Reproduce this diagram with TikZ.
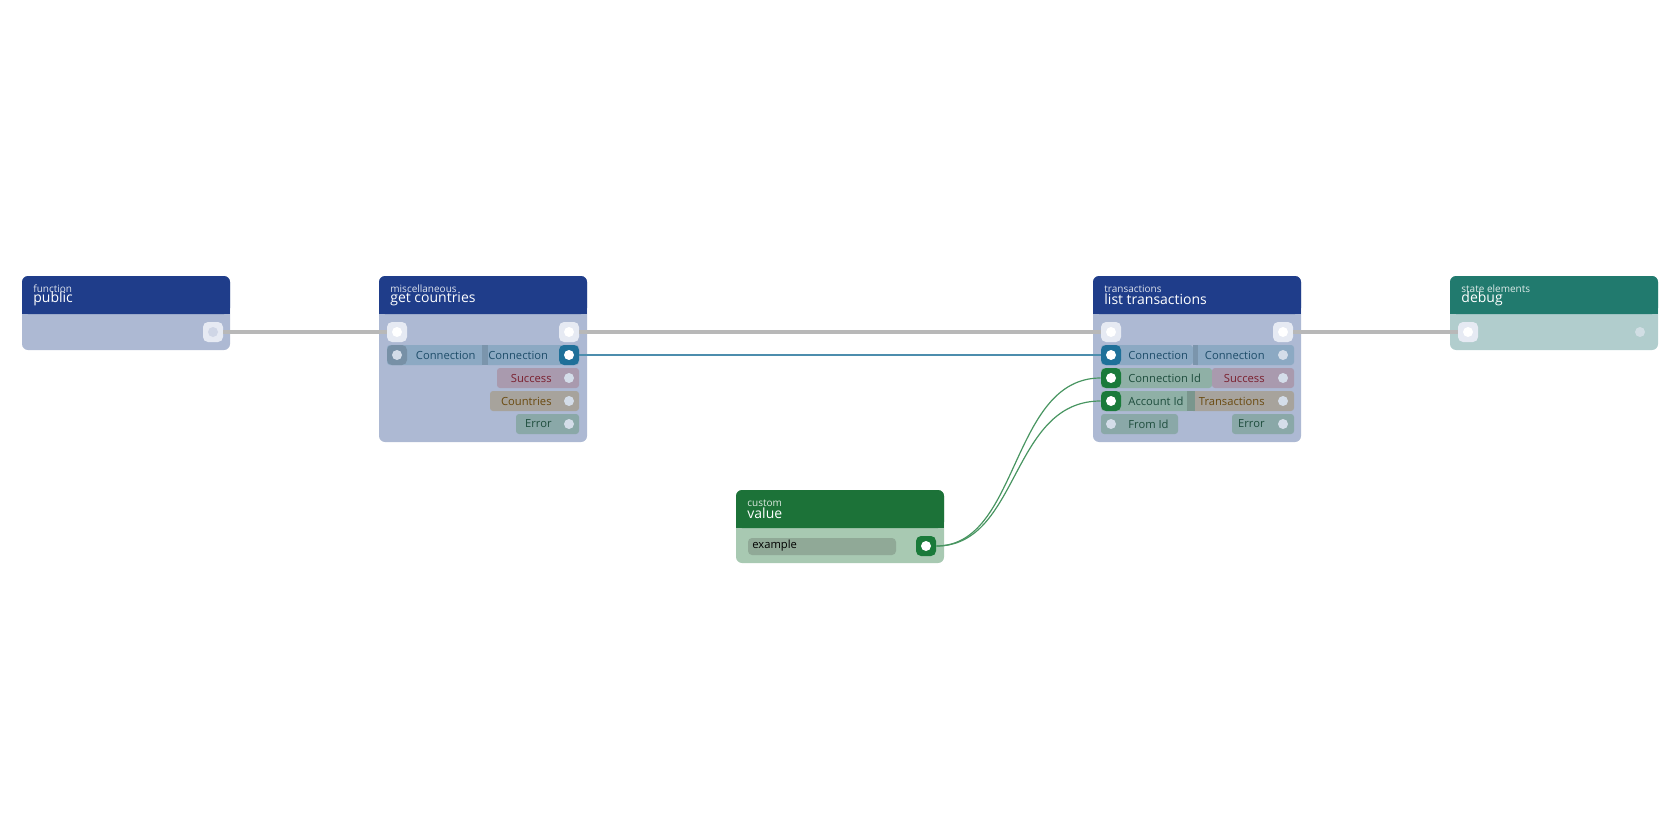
\documentclass[tikz,border=0pt]{standalone}
\usepackage{fontspec}
\setmainfont{Open Sans}
\begin{document}
\begin{tikzpicture}[x=0.5pt,y=-0.5pt,
 hdrt/.style={anchor=west,inner sep=0,text=white},
 port/.style={rounded corners=2.5pt,minimum size=10pt,inner sep=0,draw=none},
 dot/.style={circle,fill=white,minimum size=5pt,inner sep=0},
 sdot/.style={circle,fill=#1,minimum size=5pt,inner sep=0},
 lt/.style={inner sep=0,font=\fontsize{5.6}{6}\selectfont},
 flow/.style={line width=2.2pt,draw=black!28},
]
\useasboundingbox (0,0) rectangle (1680,840);
\definecolor{hb}{HTML}{1F3D8A}\definecolor{bb}{HTML}{ADB9D3}
\definecolor{ht}{HTML}{217A6E}\definecolor{bt}{HTML}{B1CDCD}
\definecolor{hg}{HTML}{1C7238}\definecolor{bg}{HTML}{A8C9B2}
\definecolor{pb}{HTML}{1F7099}\definecolor{pg}{HTML}{1A7A3A}
\definecolor{lc}{HTML}{8CA9C3}\definecolor{tc}{HTML}{1E4D6A}
\definecolor{ls}{HTML}{A99AAE}\definecolor{ts}{HTML}{7A1F2E}
\definecolor{lq}{HTML}{A7A39C}\definecolor{tq}{HTML}{6A4A10}
\definecolor{le}{HTML}{8AA8A8}\definecolor{te}{HTML}{1E4D3D}
\definecolor{lg}{HTML}{8FB0A6}\definecolor{tg}{HTML}{1E4D3D}
\definecolor{pw}{HTML}{E6EAF3}
\newcommand\mynode[7]{%
 \fill[#5,rounded corners=3pt] (#1,#2) rectangle ++(208,#3);
 \fill[#4,rounded corners=3pt] (#1,#2) rectangle ++(208,38);
 \fill[#4] (#1,#2+20) rectangle ++(208,18);
 \node[hdrt,font=\fontsize{5}{5}\selectfont,text=white!85!#4] at (#1+11,#2+13) {#6};
 \node[hdrt,font=\fontsize{7}{7}\selectfont] at (#1+11,#2+23) {#7};}
% box: x1 x2 y fill
\newcommand\lbox[4]{\fill[#4,rounded corners=1.5pt] (#1,#3-10) rectangle (#2,#3+10);}
\mynode{22}{276}{74}{hb}{bb}{function}{public}
\mynode{379}{276}{166}{hb}{bb}{miscellaneous}{get countries}
\mynode{1093}{276}{166}{hb}{bb}{transactions}{list transactions}
\mynode{1450}{276}{74}{ht}{bt}{state elements}{debug}
\mynode{736}{490}{73}{hg}{bg}{custom}{value}

% get countries labels
\lbox{387}{485}{355}{lc}\lbox{485}{579}{355}{lc}
\fill[lc!88!black] (482,345) rectangle (488,365);
\node[lt,text=tc,anchor=east] at (476,355) {Connection};
\node[lt,text=tc,anchor=west] at (488,355) {Connection};
\lbox{497}{579}{378}{ls}\node[lt,text=ts,anchor=east] at (552,378) {Success};
\lbox{490}{579}{401}{lq}\node[lt,text=tq,anchor=east] at (552,401) {Countries};
\lbox{516}{579}{424}{le}\node[lt,text=te,anchor=east] at (552,424) {Error};
% list transactions left
\lbox{1101}{1193}{355}{lc}\node[lt,text=tc,anchor=west] at (1128,355) {Connection};
\lbox{1101}{1212}{378}{lg}\node[lt,text=tg,anchor=west] at (1128,378) {Connection Id};
\lbox{1101}{1190}{401}{lg}\node[lt,text=tg,anchor=west] at (1128,401) {Account Id};
\lbox{1101}{1178}{424}{le}\node[lt,text=te,anchor=west] at (1128,424) {From Id};
% right
\lbox{1193}{1294}{355}{lc}\fill[lc!88!black] (1193,345) rectangle (1198,365);
\node[lt,text=tc,anchor=east] at (1265,355) {Connection};
\lbox{1212}{1294}{378}{ls}\node[lt,text=ts,anchor=east] at (1265,378) {Success};
\lbox{1190}{1294}{401}{lq}\fill[lg!85!black] (1187,391) rectangle (1195,411);
\node[lt,text=tq,anchor=east] at (1265,401) {Transactions};
\lbox{1232}{1294}{424}{le}\node[lt,text=te,anchor=east] at (1265,424) {Error};
% value field
\fill[bg!82!black!95,rounded corners=2pt] (748,538) rectangle (896,555);
\node[lt,text=black,anchor=west] (ex) at (752,546) {example};

% ports
\node[port,fill=pw] (pubo) at (213,332) {}; \node[sdot=pw!60!bb] at (pubo) {};
\node[port,fill=pw] (gci) at (397,332) {}; \node[dot] at (gci) {};
\node[port,fill=pw] (gco) at (569,332) {}; \node[dot] at (gco) {};
\node[port,fill=lc!85!black] (gcc) at (397,355) {}; \node[sdot=pw!80!lc] at (gcc) {};
\node[port,fill=pb] (gcco) at (569,355) {}; \node[dot] at (gcco) {};
\foreach \y in {378,401,424}{\node[sdot=pw!80!lc] at (569,\y) {};}
\node[port,fill=pw] (lti) at (1111,332) {}; \node[dot] at (lti) {};
\node[port,fill=pw] (lto) at (1283,332) {}; \node[dot] at (lto) {};
\node[port,fill=pb] (ltc) at (1111,355) {}; \node[dot] at (ltc) {};
\node[port,fill=pg] (ltci) at (1111,378) {}; \node[dot] at (ltci) {};
\node[port,fill=pg] (ltai) at (1111,401) {}; \node[dot] at (ltai) {};
\node[sdot=pw!80!lc] at (1111,424) {};
\foreach \y in {355,378,401,424}{\node[sdot=pw!80!lc] at (1283,\y) {};}
\node[port,fill=pw] (dbi) at (1468,332) {}; \node[dot] at (dbi) {};
\node[sdot=pw!60!bt] at (1640,332) {};
\node[port,fill=pg] (vo) at (926,546) {}; \node[dot] at (vo) {};

% connectors
\draw[flow] (pubo.east) -- (gci.west);
\draw[flow] (gco.east) -- (lti.west);
\draw[flow] (lto.east) -- (dbi.west);
\draw[line width=0.6pt,pb!80!white] (gcco.east) -- (ltc.west);
\draw[line width=0.6pt,pg!80!white] (vo.east) .. controls (1020,546) and (1010,378) .. (ltci.west);
\draw[line width=0.6pt,pg!80!white] (vo.east) .. controls (1020,546) and (1010,401) .. (ltai.west);
\end{tikzpicture}
\end{document}
